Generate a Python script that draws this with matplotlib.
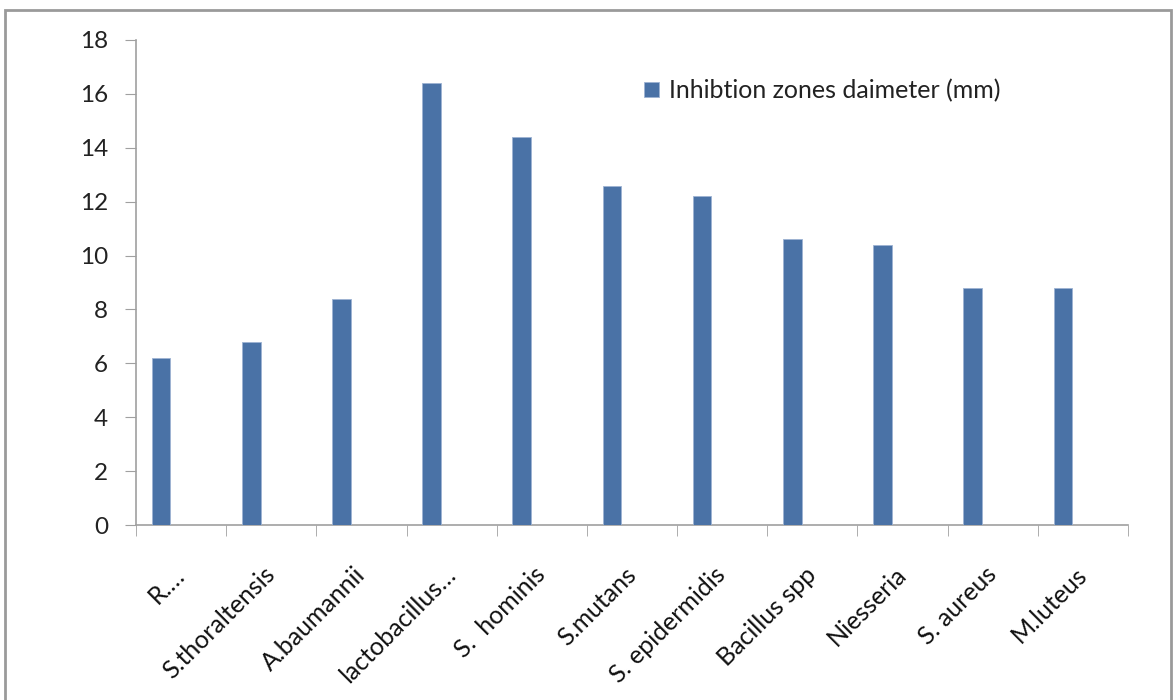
import matplotlib
matplotlib.use("Agg")
import matplotlib.pyplot as plt
from matplotlib.patches import Rectangle
import numpy as np

categories = ["R.…", "S.thoraltensis", "A.baumannii", "lactobacillus…", "S.  hominis",
              "S.mutans", "S. epidermidis", "Bacillus spp", "Niesseria", "S. aureus", "M.luteus"]
values = [6.2, 6.8, 8.4, 16.4, 14.4, 12.6, 12.2, 10.6, 10.4, 8.8, 8.8]
series_name = "Inhibtion zones daimeter (mm)"
yticks = [0, 2, 4, 6, 8, 10, 12, 14, 16, 18]

plt.rcParams['font.family'] = ['Lato', 'DejaVu Sans']

W, H = 1173, 700
fig = plt.figure(figsize=(W / 100, H / 100), dpi=100)
ax = fig.add_axes([136 / W, 1 - 525 / H, (1128 - 136) / W, (525 - 40) / H])

bar_color = '#4A72A6'
x = np.arange(len(categories))
ax.bar(x - 0.222, values, width=0.207, color=bar_color, edgecolor='#9DB3D3', linewidth=0.6,
       label=series_name, zorder=3)

ax.set_xlim(-0.5, len(categories) - 0.5)
ax.set_ylim(0, 18)
ax.set_yticks(yticks)
ax.set_yticklabels([str(v) for v in yticks], fontsize=17.5, color='#222222')

ax.set_xticks(x)
ax.set_xticklabels(categories, rotation=45, ha='right', va='center', rotation_mode='anchor',
                   fontsize=18, color='#111111')
ax.set_xticks(np.arange(-0.5, len(categories) + 0.5, 1), minor=True)
ax.tick_params(axis='x', which='major', length=0, pad=33)
ax.tick_params(axis='x', which='minor', length=8, color='#A0A0A0', direction='out')
ax.tick_params(axis='y', length=8, color='#A0A0A0', direction='out', pad=12)

for s in ['top', 'right']:
    ax.spines[s].set_visible(False)
for s in ['left', 'bottom']:
    ax.spines[s].set_color('#A0A0A0')
    ax.spines[s].set_linewidth(1.2)

leg = ax.legend(loc='upper left', bbox_to_anchor=((634 - 136) / (1128 - 136), (525 - 69) / (525 - 40)),
                frameon=False, fontsize=18, handlelength=0.58, handleheight=0.58,
                handletextpad=0.42, borderaxespad=0)
for t in leg.get_texts():
    t.set_color('#222222')

# outer frame
fig.patches.append(Rectangle((5 / W, -0.05), (1171 - 5) / W, (H - 10) / H + 0.05,
                             transform=fig.transFigure, fill=False, edgecolor='#9A9A9A',
                             linewidth=2.0))

fig.savefig('out.png', dpi=100, facecolor='white')
